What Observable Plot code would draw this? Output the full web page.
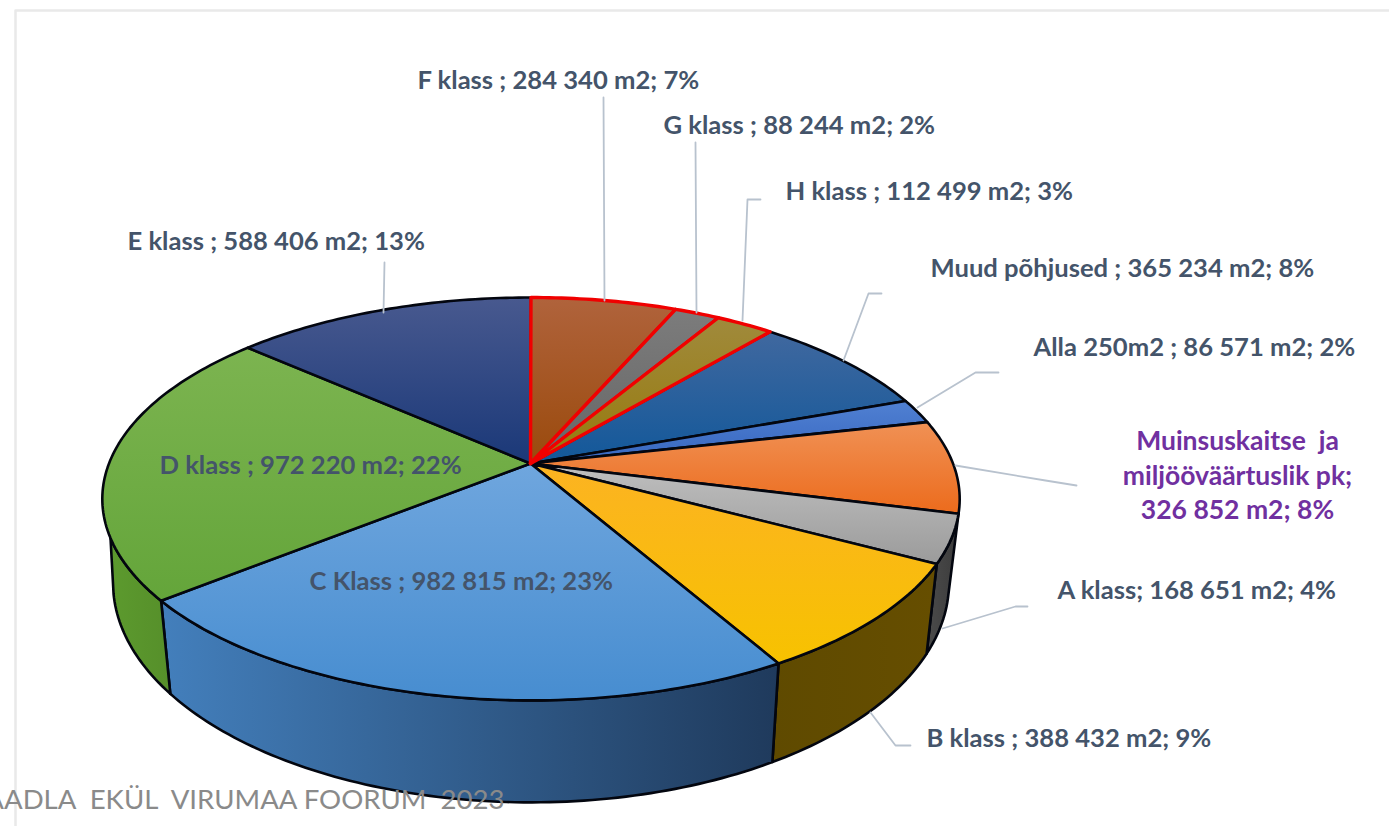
<!DOCTYPE html>
<html><head><meta charset="utf-8">
<script src="https://cdn.jsdelivr.net/npm/d3@7"></script>
<script src="https://cdn.jsdelivr.net/npm/@observablehq/plot@0.6"></script>
<style>html,body{margin:0;padding:0;background:#fff}svg{display:block}</style>
</head><body><div id="chart"></div>
<script>
// --- data (clockwise from 12 o'clock)
const names  = ["F klass","G klass","H klass","Muud põhjused","Alla 250m2","Muinsuskaitse","A klass","B klass","C Klass","D klass","E klass"];
const areas  = [284340,88244,112499,365234,86571,326852,168651,388432,982815,972220,588406];
const labels = ["F klass ; 284 340 m2; 7%","G klass ; 88 244 m2; 2%","H klass ; 112 499 m2; 3%","Muud põhjused ; 365 234 m2; 8%","Alla 250m2 ; 86 571 m2; 2%",null,"A klass; 168 651 m2; 4%","B klass ; 388 432 m2; 9%","C Klass ; 982 815 m2; 23%","D klass ; 972 220 m2; 22%","E klass ; 588 406 m2; 13%"];
const purpleLines = ["Muinsuskaitse  ja","miljööväärtuslik pk;","326 852 m2; 8%"];
const footer = "AADLA  EKÜL  VIRUMAA FOORUM  2023";

// --- styles and layout
const topColors = [["#b0633c","#9a4a0c"],["#7c7c7c","#666666"],["#a08a3c","#977a0c"],["#40689f","#12589a"],["#5080d2","#3767c0"],["#f09155","#ec6b1c"],["#bfbfbf","#9b9b9b"],["#fcb322","#f7c200"],["#6fa6de","#478dd0"],["#7cb450","#64a53a"],["#48598f","#1a3878"]];
const wallColors = {"A klass":["#4b4b4b","#3c3c3c"],"B klass":["#5f4a00","#664e00"],"C Klass":["#437fbc","#1f3a5c"],"D klass":["#5c9a2e","#568f2a"]};
const wallEnd = {"D klass":[249,257]}; // silhouette angles on the upper and lower rim
const redSlices = new Set(["F klass","G klass","H klass"]);
const labelX = [417,663,785,930,1033,null,1057,926,309,159,127];
const labelY = [80,125,191,268,347,null,590,738,581,465,241];
const purpleY = [441,476,510], purpleX = 1237;
const leaders = [
 [[603,97],[604,300]],
 [[695,142],[696,312]],
 [[760,199],[747,199],[742,320]],
 [[881,293],[868,293],[843,360]],
 [[998,372],[975,372],[917,407]],
 [[1076,485],[1045,480],[955,465]],
 [[1027,606],[1015,606],[942,628]],
 [[910,745],[895,745],[870,712]],
 [[384,262],[383,312]]
];
const frame = [[15,826],[15,10],[1389,10]];
const CX=530.5, CY=463, A=422, B=195.2, K=0.176;
const INK="#03060f";

// --- geometry from data
const total = d3.sum(areas);
const cum = d3.cumsum(areas);
const rim = deg => {const t=deg*Math.PI/180,u=Math.sin(t),v=-Math.cos(t),w=1-K*v;return [CX+A*u/w,CY+B*v/w];};
const low = ([x,y]) => [CX+0.975*(x-CX),693+1.09*(y-600)];
const arc = (a,b) => {const n=Math.max(2,Math.ceil(b-a));return d3.range(n+1).map(i=>rim(a+(b-a)*i/n));};
const slices = names.map((name,i)=>({name,i,a:(i?cum[i-1]:0)/total*360,b:cum[i]/total*360}));
const X=d=>d[0],Y=d=>d[1];
const poly = (pts,opts)=>Plot.line(pts,{x:X,y:Y,curve:"linear",strokeLinejoin:"round",...opts});

const gradients = () => {
  const defs = d3.create("svg:defs");
  const add=(id,c,horiz)=>{const g=defs.append("linearGradient").attr("id",id).attr("x1",0).attr("y1",0).attr("x2",horiz?1:0).attr("y2",horiz?0:1);
    g.append("stop").attr("offset","0%").attr("stop-color",c[0]);g.append("stop").attr("offset","100%").attr("stop-color",c[1]);};
  slices.forEach(s=>add("top"+s.i,topColors[s.i],false));
  slices.forEach(s=>{if(wallColors[s.name])add("wall"+s.i,wallColors[s.name],true);});
  return defs.node();
};

const walls = slices.filter(s=>wallColors[s.name]).map(s=>{
  const [endUp,endLow]=wallEnd[s.name]||[s.b,s.b];
  const pts=[...arc(s.a,endUp),...arc(s.a,endLow).map(low).reverse(),rim(s.a)];
  return poly(pts,{fill:`url(#wall${s.i})`,stroke:INK,strokeWidth:2.6});
});

const topFace = (s,stroke,w)=>{const pts=[[CX-0.5,CY],...arc(s.a,s.b),[CX-0.5,CY]];
  return poly(pts,{fill:`url(#top${s.i})`,stroke,strokeWidth:w});};
const tops = [
  ...slices.filter(s=>!redSlices.has(s.name)).map(s=>topFace(s,INK,2.6)),
  ...slices.filter(s=>redSlices.has(s.name)).map(s=>topFace(s,"#f00000",3.4))
];

const labelRows = names.map((n,i)=>({t:labels[i],x:labelX[i],y:labelY[i]})).filter(d=>d.t);
const purpleRows = purpleLines.map((t,i)=>({t,x:purpleX,y:purpleY[i]}));
const FONT='Lato,"Noto Sans",sans-serif';

const chart = Plot.plot({
  width:1389,height:826,margin:0,
  style:{background:"#fff",fontFamily:FONT},
  x:{domain:[0,1389],range:[0,1389],axis:null},
  y:{domain:[0,826],range:[0,826],axis:null},
  marks:[
    gradients,
    poly(frame,{stroke:"#e9e9e9",strokeWidth:2.5}),
    ...walls,
    ...tops,
    ...leaders.map(l=>poly(l,{stroke:"#b8c2ce",strokeWidth:1.8})),
    Plot.text(labelRows,{x:"x",y:"y",text:"t",textAnchor:"start",fontWeight:700,fontSize:25.6,fill:"#44546a",fontFamily:FONT}),
    Plot.text(purpleRows,{x:"x",y:"y",text:"t",textAnchor:"middle",fontWeight:700,fontSize:26.5,fill:"#7030a0",fontFamily:FONT}),
    Plot.text([footer],{x:[504],y:[800],text:d=>d,textAnchor:"end",fontSize:27.6,fill:"#8a8a8a",fontFamily:FONT})
  ]
});
document.getElementById("chart").append(chart);
</script></body></html>
